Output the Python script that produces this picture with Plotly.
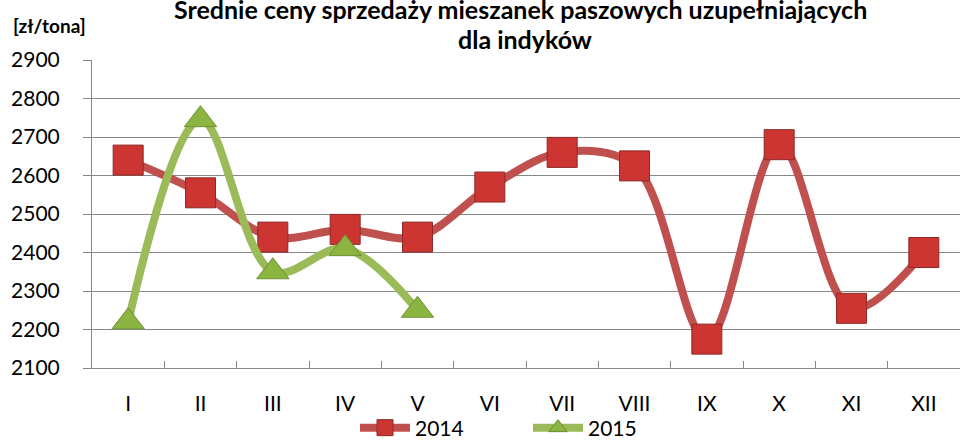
import plotly.graph_objects as go

months = ["I", "II", "III", "IV", "V", "VI", "VII", "VIII", "IX", "X", "XI", "XII"]
prices_2014 = [2640, 2555, 2440, 2460, 2440, 2570, 2660, 2625, 2175, 2680, 2255, 2400]
months_2015 = ["I", "II", "III", "IV", "V"]
prices_2015 = [2220, 2745, 2350, 2410, 2250]
y_ticks = [2100, 2200, 2300, 2400, 2500, 2600, 2700, 2800, 2900]

FONT = "Lato"
W, H = 960, 441
L, R, T, B = 92, 0, 60, 73
plot_h = H - T - B
plot_w = W - L - R

def px_x(p):
    return (p - L) / plot_w

def px_y(p):
    return (H - B - p) / plot_h

fig = go.Figure()
fig.add_trace(go.Scatter(
    x=months, y=prices_2014, name="2014", mode="lines+markers",
    line=dict(color="#C0504D", width=8, shape="spline", smoothing=1),
    marker=dict(symbol="square", size=30, color="#CC3531",
                line=dict(color="#8E2A28", width=1)),
))
fig.add_trace(go.Scatter(
    x=months_2015, y=prices_2015, name="2015", mode="lines+markers",
    line=dict(color="#9BBB59", width=8, shape="spline", smoothing=1),
    marker=dict(symbol="triangle-up", size=28, color="#8CB440",
                line=dict(color="#6E8F33", width=1)),
))

fig.update_layout(
    width=W, height=H,
    margin=dict(l=L, r=R, t=T, b=B, pad=0, autoexpand=False),
    paper_bgcolor="white", plot_bgcolor="white",
    font=dict(family=FONT, size=21, color="black"),
    showlegend=True,
    legend=dict(orientation="h", x=px_x(355), xanchor="left",
                y=px_y(428), yanchor="middle",
                font=dict(family=FONT, size=21, color="black"),
                itemwidth=50, entrywidth=108, tracegroupgap=0,
                bgcolor="rgba(0,0,0,0)"),
    xaxis=dict(type="category", categoryorder="array", categoryarray=months,
               range=[-0.5, 11.5], showgrid=False, showline=True,
               linecolor="#868686", linewidth=1, ticks="inside",
               tickson="boundaries", ticklen=7, tickcolor="#868686",
               tickfont=dict(family=FONT, size=21), ticklabelstandoff=17,
               zeroline=False),
    yaxis=dict(range=[2100, 2900], tickvals=y_ticks, showgrid=True,
               gridcolor="#868686", gridwidth=1, showline=True,
               linecolor="#868686", linewidth=1, ticks="outside", ticklen=8,
               tickcolor="#868686", tickfont=dict(family=FONT, size=21),
               ticklabelstandoff=19, zeroline=False),
    annotations=[
        dict(text="<b>Średnie ceny sprzedaży mieszanek paszowych uzupełniających</b>",
             xref="paper", yref="paper", x=px_x(520), y=px_y(9),
             xanchor="center", yanchor="middle", showarrow=False,
             font=dict(family=FONT, size=25, color="black")),
        dict(text="<b>dla indyków</b>",
             xref="paper", yref="paper", x=px_x(525), y=px_y(39),
             xanchor="center", yanchor="middle", showarrow=False,
             font=dict(family=FONT, size=25, color="black")),
        dict(text="<b>[zł/tona]</b>",
             xref="paper", yref="paper", x=px_x(11), y=px_y(26),
             xanchor="left", yanchor="middle", showarrow=False,
             font=dict(family=FONT, size=19, color="black")),
    ],
)

fig.write_html(
    "out.html",
    config={"displayModeBar": False},
    post_script="document.body.style.margin='0';document.body.style.overflow='hidden';",
)
